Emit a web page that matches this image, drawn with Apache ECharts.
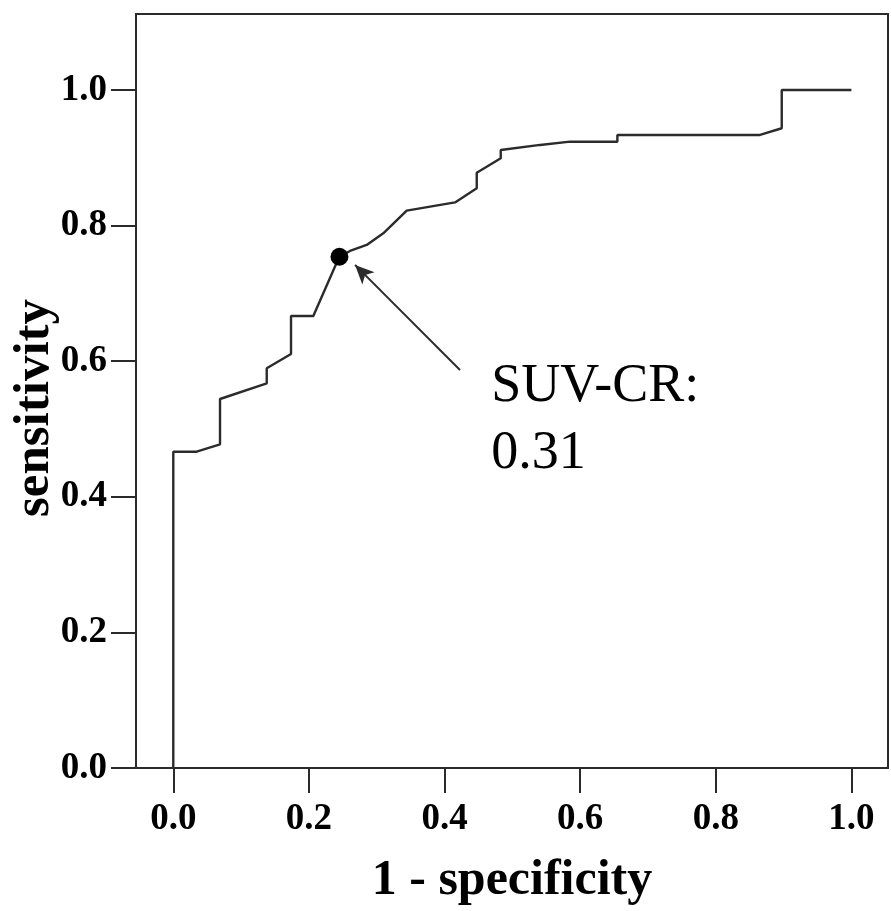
<!DOCTYPE html>
<html>
<head>
<meta charset="utf-8">
<script src="https://cdn.jsdelivr.net/npm/echarts@6/dist/echarts.min.js"></script>
<style>
html,body{margin:0;padding:0;background:#fff;}
#chart{width:891px;height:911px;}
</style>
</head>
<body>
<div id="chart"></div>
<script>
// ROC curve points: 1 - specificity (x) and sensitivity (y)
const fpr = [0, 0, 0.0345, 0.0689, 0.0689, 0.1378, 0.1378, 0.1736, 0.1736, 0.2065, 0.2448, 0.2606, 0.2852, 0.3097, 0.3442, 0.4155, 0.4475, 0.4475, 0.4829, 0.4829, 0.5409, 0.5851, 0.6549, 0.6549, 0.8653, 0.8973, 0.8973, 1.0];
const sens = [0, 0.4665, 0.4665, 0.4774, 0.5442, 0.5674, 0.5895, 0.6106, 0.6667, 0.6667, 0.7541, 0.7625, 0.7714, 0.7886, 0.8220, 0.8341, 0.8550, 0.8780, 0.8993, 0.9115, 0.9189, 0.9237, 0.9237, 0.9336, 0.9336, 0.9435, 1.0, 1.0];

// Cut-off point and annotation
const cutPoint = [0.245, 0.754];
const cutLabel = 'SUV-CR:\n0.31';
const arrowFrom = [0.4228, 0.587];
const arrowTo = [0.268, 0.742];
const labelAnchor = [0.4695, 0.6106];

// Tick labels
const xTicks = [0, 0.2, 0.4, 0.6, 0.8, 1.0];
const yTicks = [0, 0.2, 0.4, 0.6, 0.8, 1.0];

const lineColor = '#2b2b2b';
const serif = '"Liberation Serif", "Times New Roman", serif';

const chart = echarts.init(document.getElementById('chart'));
chart.setOption({
  animation: false,
  backgroundColor: '#fff',
  grid: {
    left: 136, right: 3, top: 14, bottom: 143,
    containLabel: false,
    outerBoundsMode: 'none',
    show: true, borderColor: lineColor, borderWidth: 2, backgroundColor: 'transparent'
  },
  xAxis: {
    type: 'value',
    min: -0.055, max: 1.054,
    name: '1 - specificity',
    nameLocation: 'middle',
    nameGap: 88,
    nameMoveOverlap: false,
    nameTextStyle: { fontFamily: serif, fontWeight: 'bold', fontSize: 50, color: '#000' },
    axisLine: { show: true, onZero: false, lineStyle: { color: lineColor, width: 2 } },
    axisTick: { show: true, length: 25, customValues: xTicks, lineStyle: { color: lineColor, width: 2 } },
    axisLabel: {
      customValues: xTicks, margin: 33,
      formatter: v => v.toFixed(1),
      fontFamily: serif, fontWeight: 'bold', fontSize: 37, color: '#000'
    },
    splitLine: { show: false }
  },
  yAxis: {
    type: 'value',
    min: 0, max: 1.112,
    name: 'sensitivity',
    nameLocation: 'middle',
    nameRotate: 90,
    nameGap: 76,
    nameMoveOverlap: false,
    nameTextStyle: { fontFamily: serif, fontWeight: 'bold', fontSize: 51, color: '#000', padding: [0, 34, 0, 0] },
    axisLine: { show: true, onZero: false, lineStyle: { color: lineColor, width: 2 } },
    axisTick: { show: true, length: 25, customValues: yTicks, lineStyle: { color: lineColor, width: 2 } },
    axisLabel: {
      customValues: yTicks, margin: 29,
      formatter: v => v.toFixed(1),
      fontFamily: serif, fontWeight: 'bold', fontSize: 37, color: '#000'
    },
    splitLine: { show: false }
  },
  series: [
    {
      type: 'line',
      data: fpr.map((x, i) => [x, sens[i]]),
      symbol: 'none',
      lineStyle: { color: lineColor, width: 2.4 },
      z: 3,
      markLine: {
        silent: true,
        symbol: ['none', 'arrow'],
        symbolSize: [13, 19],
        label: { show: false },
        lineStyle: { color: lineColor, width: 2, type: 'solid', opacity: 1 },
        data: [[{ coord: arrowFrom }, { coord: arrowTo }]]
      }
    },
    {
      type: 'scatter',
      data: [cutPoint],
      symbol: 'circle',
      symbolSize: 18,
      itemStyle: { color: '#000', opacity: 1 },
      z: 4
    },
    {
      type: 'scatter',
      data: [labelAnchor],
      symbolSize: 1,
      itemStyle: { color: '#fff', opacity: 0 },
      label: {
        show: true,
        position: [0, 0],
        align: 'left',
        verticalAlign: 'top',
        formatter: cutLabel,
        fontFamily: serif,
        fontSize: 54,
        lineHeight: 67,
        color: '#000',
        opacity: 1
      }
    }
  ]
});
</script>
</body>
</html>
